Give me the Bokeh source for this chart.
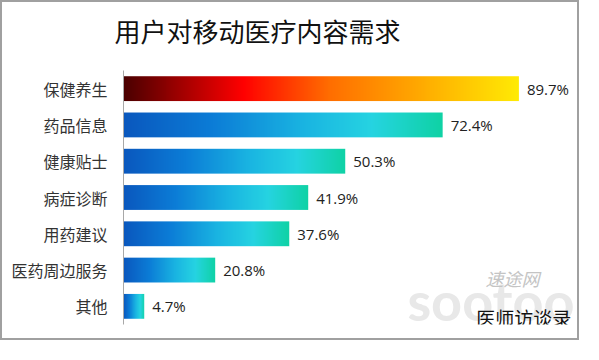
import numpy as np
from bokeh.plotting import figure
from bokeh.models import Range1d, FactorRange, Title, Label
from bokeh.core.properties import value
from bokeh.embed import file_html
from bokeh.resources import INLINE

# ---- data ----
title_text = "用户对移动医疗内容需求"
categories = ["保健养生", "药品信息", "健康贴士", "病症诊断", "用药建议", "医药周边服务", "其他"]
values = [89.7, 72.4, 50.3, 41.9, 37.6, 20.8, 4.7]
value_labels = ["89.7%", "72.4%", "50.3%", "41.9%", "37.6%", "20.8%", "4.7%"]

# ---- gradient styles ----
hot_stops = [(0.0, (75, 0, 0)), (0.30, (255, 0, 0)), (0.52, (255, 110, 0)),
             (0.75, (255, 170, 0)), (1.0, (255, 235, 5))]
blue_stops = [(0.0, (10, 88, 190)), (0.28, (12, 125, 215)), (0.55, (25, 178, 225)),
              (0.78, (38, 212, 225)), (1.0, (15, 210, 165))]


def gradient(stops, n=400):
    t = np.linspace(0, 1, n)
    pos = [s[0] for s in stops]
    cols = np.array([s[1] for s in stops], dtype=float)
    img = np.zeros((1, n), dtype=np.uint32)
    view = img.view(dtype=np.uint8).reshape((1, n, 4))
    for c in range(3):
        view[0, :, c] = np.interp(t, pos, cols[:, c]).astype(np.uint8)
    view[0, :, 3] = 255
    return img


images = [gradient(hot_stops if i == 0 else blue_stops) for i in range(len(values))]

p = figure(width=579, height=340, output_backend="svg", toolbar_location=None,
           x_range=Range1d(0, 103.9),
           y_range=FactorRange(factors=list(reversed(categories)), range_padding=0),
           min_border_left=121, min_border_right=0, min_border_top=68, min_border_bottom=18,
           title=None)
p.styles = {"border": "2px solid #a0a0a0"}
p.outline_line_color = None
p.background_fill_color = "white"
p.border_fill_color = "white"
p.xgrid.visible = False
p.ygrid.visible = False
p.xaxis.visible = False

ya = p.yaxis[0]
ya.axis_line_color = "#a8a8a8"
ya.axis_line_width = 1
ya.major_tick_out = 0
ya.major_tick_in = 0
ya.minor_tick_out = 0
ya.major_label_standoff = 16
ya.major_label_text_font = "Noto Sans CJK SC"
ya.major_label_text_font_size = "16px"
ya.major_label_text_color = "#333333"

p.image_rgba(image=images, x=[0] * len(values), y=categories, dw=values,
             dh=[0.684] * len(values), anchor="center_left")

p.text(x=values, y=categories, text=value_labels, x_offset=8,
       text_baseline="middle", text_align="left",
       text_font=value("Open Sans"), text_font_size="15px", text_color="#222222")

# spacer between frame and title (closest to the frame), then the title
spacer = Title(text=" ", text_font="Noto Sans CJK SC", text_font_size="5px", standoff=4.6)
p.add_layout(spacer, "above")
t = Title(text=title_text, align="left", offset=-9, text_font="Noto Sans CJK SC",
          text_font_size="26px", text_font_style="normal", text_color="#111111", standoff=14.6)
p.add_layout(t, "above")

# watermark
p.add_layout(Label(x=64.4, y=0.66, text="sootoo", text_baseline="middle",
                   text_font="Lato", text_font_style="bold", text_font_size="54px",
                   text_color="#e8e8e8"))
p.add_layout(Label(x=82.1, y=1.27, text="速途网", text_baseline="middle",
                   text_font="Noto Sans CJK SC", text_font_style="italic", text_font_size="18px",
                   text_color="#c4c4c4"))
p.add_layout(Label(x=80.0, y=0.19, text="医师访谈录", text_baseline="middle",
                   text_font="Noto Sans CJK SC", text_font_size="19px",
                   text_color="#111111"))

open("out.html", "w").write(file_html(p, INLINE))
